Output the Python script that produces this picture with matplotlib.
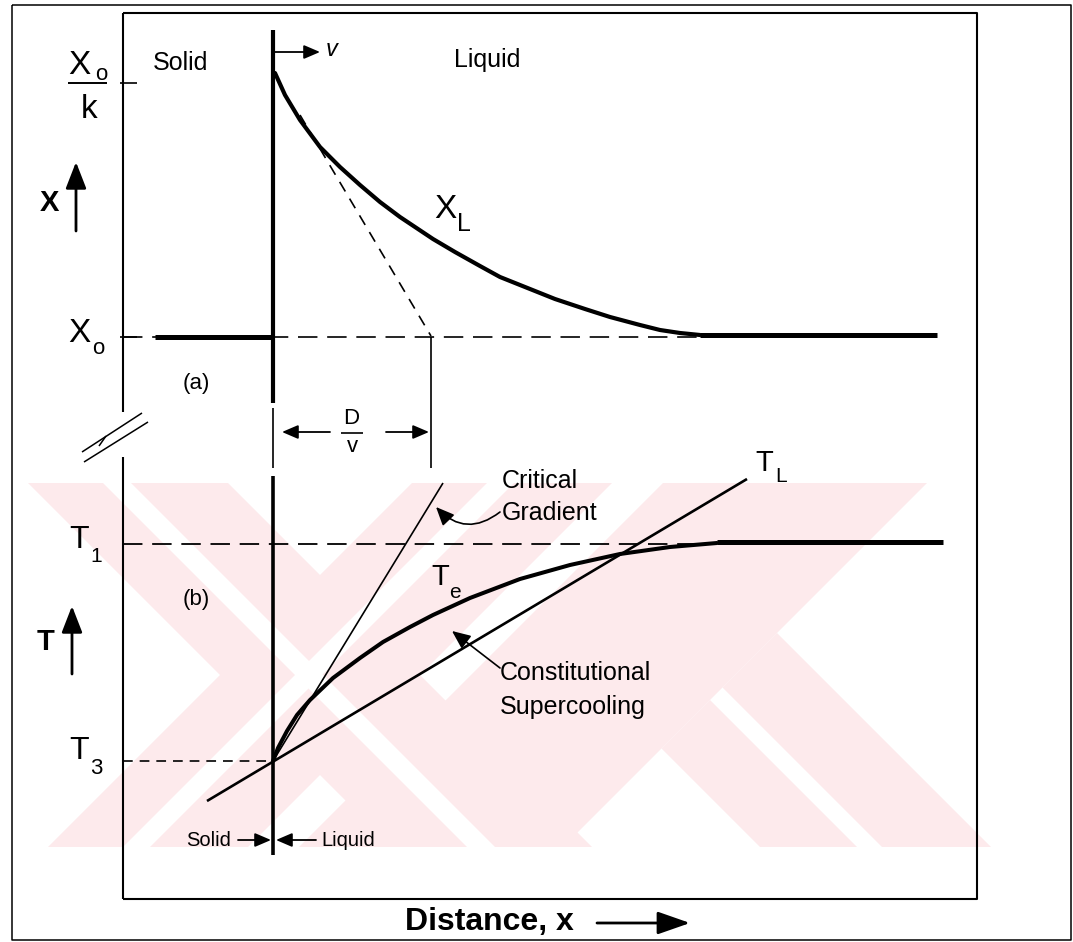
import matplotlib
matplotlib.use("Agg")
import matplotlib.pyplot as plt
from matplotlib.patches import Polygon

plt.rcParams['font.family'] = ['Liberation Sans', 'DejaVu Sans']
plt.rcParams['lines.scale_dashes'] = False
plt.rcParams['lines.solid_capstyle'] = 'butt'

# ------------------------------------------------------------------
# Diagram values (drawing units = pixels of the original figure)
# ------------------------------------------------------------------
W, H = 1073, 942
interface_x = 273

# (a) liquid composition profile X_L
XL_x = [275, 285, 300, 320, 340, 360, 380, 400, 433, 455, 480, 500, 530, 555, 585, 610, 640, 660, 680, 700]
XL_y = [73, 95, 120, 147, 167, 185, 202, 217, 239, 252, 266, 277, 289, 299, 309, 317, 325, 330, 333, 335]
X0_level = 337          # bulk composition X_o
X0k_level = 83          # X_o / k
solid_X_range = [155, 272]
liquid_far_range = [700, 937]
Dv_x = 431              # end of characteristic distance D/v
tangent_x = [300, 431]
tangent_y = [115, 336]

# (b) temperature profiles
TE_x = [273, 278, 287, 297, 310, 333, 360, 383, 410, 433, 470, 520, 570, 620, 670, 717]
TE_y = [761, 748, 731, 715, 700, 678, 658, 642, 627, 615, 598, 579, 565, 554, 547, 543]
T1_level = 543
T3_level = 761
TE_far_range = [717, 943]
TL_x = [207, 747]        # liquidus temperature line
TL_y = [801, 479]
crit_x = [273, 443]      # critical gradient
crit_y = [761, 483]

# watermark bands (pale pink), y extent
WM_top, WM_bot = 483, 847
WM_slash = [(895, 1095), (1146, 1410)]       # bands x + y in [a, b]
WM_back = [(-455, -255)]                      # bands x - y in [a, b]
WM_slash_gap = [(970, 997)]
WM_back_gap = [(-380, -352)]
WM_legs = [(-10, 87), (-144, -35)]            # legs y - x in [a, b] from x+y=1410
WM_leg_root = 1410

fig = plt.figure(figsize=(W / 100, H / 100), dpi=100)
ax = fig.add_axes([0, 0, 1, 1])
ax.set_xlim(0, W)
ax.set_ylim(H, 0)
ax.axis('off')

# ---------------- watermark ----------------
pink = '#fdeaec'
t, b = WM_top, WM_bot
for a1, b1 in WM_slash:
    ax.add_patch(Polygon([(a1 - t, t), (b1 - t, t), (b1 - b, b), (a1 - b, b)],
                         closed=True, fc=pink, ec='none', zorder=0))
for a1, b1 in WM_back:
    ax.add_patch(Polygon([(t + a1, t), (t + b1, t), (b + b1, b), (b + a1, b)],
                         closed=True, fc=pink, ec='none', zorder=0))
for a1, b1 in WM_legs:
    c = WM_leg_root
    ax.add_patch(Polygon([((c - a1) / 2, (c + a1) / 2), (b - a1, b), (b - b1, b),
                          ((c - b1) / 2, (c + b1) / 2)],
                         closed=True, fc=pink, ec='none', zorder=0))
for a1, b1 in WM_slash_gap:
    ax.add_patch(Polygon([(a1 - t, t), (b1 - t, t), (b1 - b, b), (a1 - b, b)],
                         closed=True, fc='white', ec='none', zorder=0.2))
for a1, b1 in WM_back_gap:
    ax.add_patch(Polygon([(t + a1, t), (t + b1, t), (b + b1, b), (b + a1, b)],
                         closed=True, fc='white', ec='none', zorder=0.2))

K = 'black'

# ---------------- frames ----------------
ax.plot([12, 1071, 1071, 12, 12], [5, 5, 940, 940, 5], color=K, lw=1.1, zorder=2)
ax.plot([123, 977, 977, 123], [13, 13, 899, 899], color=K, lw=1.5, zorder=2)
ax.plot([123, 123], [13, 412], color=K, lw=1.5, zorder=2)
ax.plot([123, 123], [457, 899], color=K, lw=1.5, zorder=2)
# axis break symbol
ax.plot([82, 142], [452, 413], color=K, lw=1.1, zorder=2)
ax.plot([84, 148], [462, 422], color=K, lw=1.1, zorder=2)
ax.plot([99, 106], [446, 436], color=K, lw=1.1, zorder=2)

# ---------------- panel (a) ----------------
ax.plot([interface_x, interface_x], [30, 403], color=K, lw=3.0, zorder=3)
ax.plot([interface_x, interface_x], [408, 468], color=K, lw=1.2, zorder=3)
ax.plot([123, 700], [X0_level, X0_level], color=K, lw=1.2, dashes=(14, 7), zorder=2)
ax.plot(solid_X_range, [X0_level, X0_level], color=K, lw=3.6, zorder=3)
ax.plot(liquid_far_range, [X0_level - 2, X0_level - 2], color=K, lw=3.6, zorder=3)
ax.plot(XL_x, XL_y, color=K, lw=3.0, zorder=3, solid_capstyle='round')
ax.plot(tangent_x, tangent_y, color=K, lw=1.2, dashes=(8, 6), zorder=2)
ax.plot([Dv_x, Dv_x], [X0_level, 468], color=K, lw=1.2, zorder=2)
ax.plot([120, 137], [X0k_level, X0k_level], color=K, lw=1.2, zorder=2)
ax.plot([120, 137], [X0_level, X0_level], color=K, lw=1.2, zorder=2)

arrow_kw = dict(arrowstyle='-|>,head_length=0.7,head_width=0.3', color=K, lw=1.3,
                shrinkA=0, shrinkB=0, mutation_scale=14)
ax.annotate('', xy=(320, 52), xytext=(interface_x, 52), arrowprops=arrow_kw, zorder=3)
ax.text(332, 50, 'v', fontsize=17, ha='center', va='center', style='italic')

ax.text(181, 63, 'Solid', fontsize=18, ha='center', va='center')
ax.text(487, 60, 'Liquid', fontsize=18, ha='center', va='center')

# X_o / k label
ax.text(79, 66, 'X', fontsize=24, ha='center', va='center')
ax.text(101, 75, 'o', fontsize=16, ha='center', va='center')
ax.plot([68, 107], [83, 83], color=K, lw=1.4)
ax.text(89, 110, 'k', fontsize=24, ha='center', va='center')
# X_o label
ax.text(79, 334, 'X', fontsize=24, ha='center', va='center')
ax.text(98, 349, 'o', fontsize=16, ha='center', va='center')
# axis label X with arrow
ax.text(49, 203, 'X', fontsize=21, fontweight='bold', ha='center', va='center')
big_arrow = dict(arrowstyle='-|>,head_length=0.9,head_width=0.35', color=K, lw=2.0,
                 shrinkA=0, shrinkB=0, mutation_scale=18)
ax.annotate('', xy=(76, 162), xytext=(76, 231), arrowprops=big_arrow)
# X_L
ax.text(445, 210, 'X', fontsize=24, ha='center', va='center')
ax.text(464, 224, 'L', fontsize=18, ha='center', va='center')
ax.text(196, 383, '(a)', fontsize=16, ha='center', va='center')

# D/v dimension
ax.annotate('', xy=(282, 432), xytext=(330, 432), arrowprops=arrow_kw)
ax.annotate('', xy=(429, 432), xytext=(386, 432), arrowprops=arrow_kw)
ax.text(351, 419, 'D', fontsize=16, ha='center', va='center')
ax.plot([341, 363], [433, 433], color=K, lw=1.2)
ax.text(352, 447, 'v', fontsize=16, ha='center', va='center')

# ---------------- panel (b) ----------------
ax.plot([interface_x, interface_x], [476, 855], color=K, lw=2.6, zorder=3)
ax.plot([123, 717], [T1_level + 1, T1_level + 1], color=K, lw=1.3, dashes=(14, 7), zorder=2)
ax.plot(TE_far_range, [T1_level - 1, T1_level - 1], color=K, lw=3.6, zorder=3)
ax.plot([123, interface_x], [T3_level, T3_level], color=K, lw=1.2, dashes=(7, 5), zorder=2)
ax.plot(TL_x, TL_y, color=K, lw=1.9, zorder=3)
ax.plot(crit_x, crit_y, color=K, lw=1.2, zorder=3)
ax.plot(TE_x, TE_y, color=K, lw=2.9, zorder=3, solid_capstyle='round')

ax.text(79, 540, 'T', fontsize=23, ha='center', va='center')
ax.text(96, 557, '1', fontsize=15, ha='center', va='center')
ax.text(79, 751, 'T', fontsize=23, ha='center', va='center')
ax.text(96, 768, '3', fontsize=16, ha='center', va='center')
ax.text(196, 600, '(b)', fontsize=16, ha='center', va='center')
ax.text(46, 642, 'T', fontsize=21, fontweight='bold', ha='center', va='center')
ax.annotate('', xy=(72, 606), xytext=(72, 674), arrowprops=big_arrow)

ax.text(440, 577, 'T', fontsize=21, ha='center', va='center')
ax.text(455, 592, 'e', fontsize=15, ha='center', va='center')
ax.text(764, 463, 'T', fontsize=21, ha='center', va='center')
ax.text(781, 476, 'L', fontsize=15, ha='center', va='center')

ax.text(502, 481, 'Critical', fontsize=18, ha='left', va='center')
ax.text(502, 513, 'Gradient', fontsize=18, ha='left', va='center')
ax.annotate('', xy=(436, 507), xytext=(500, 512),
            arrowprops=dict(arrowstyle='-|>,head_length=0.8,head_width=0.35', color=K, lw=1.2,
                            shrinkA=0, shrinkB=0, mutation_scale=14,
                            connectionstyle='arc3,rad=-0.45'))
ax.text(500, 673, 'Constitutional', fontsize=18, ha='left', va='center')
ax.text(500, 707, 'Supercooling', fontsize=18, ha='left', va='center')
ax.annotate('', xy=(452, 631), xytext=(500, 668),
            arrowprops=dict(arrowstyle='-|>,head_length=0.8,head_width=0.35', color=K, lw=1.2,
                            shrinkA=0, shrinkB=0, mutation_scale=14))

ax.text(209, 840, 'Solid', fontsize=14.5, ha='center', va='center')
ax.text(348, 840, 'Liquid', fontsize=14.5, ha='center', va='center')
ax.annotate('', xy=(271, 840), xytext=(238, 840), arrowprops=arrow_kw)
ax.annotate('', xy=(276, 840), xytext=(316, 840), arrowprops=arrow_kw)

ax.text(405, 922, 'Distance, x', fontsize=23, fontweight='bold', ha='left', va='center')
ax.annotate('', xy=(690, 923), xytext=(597, 923),
            arrowprops=dict(arrowstyle='-|>,head_length=1.0,head_width=0.35', color=K, lw=2.0,
                            shrinkA=0, shrinkB=0, mutation_scale=20))

fig.savefig('out.png', dpi=100)
